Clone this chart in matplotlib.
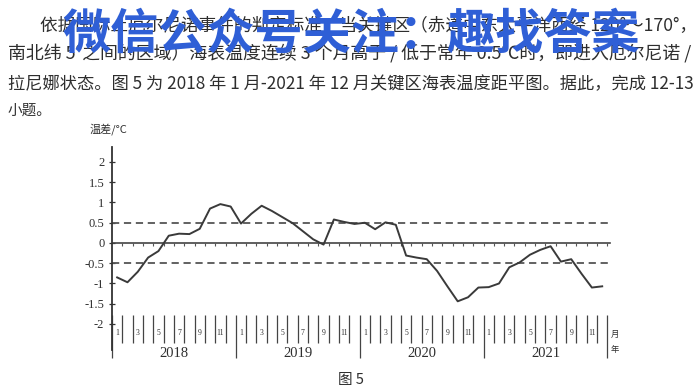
import matplotlib
matplotlib.use('Agg')
import matplotlib.pyplot as plt

# ---------------- data ----------------
years = ['2018', '2019', '2020', '2021']
month_labels = [1, 3, 5, 7, 9, 11]
anomaly = [-0.85, -0.97, -0.71, -0.36, -0.20, 0.18, 0.23, 0.22, 0.35, 0.85, 0.96, 0.90,
           0.48, 0.72, 0.92, 0.79, 0.64, 0.49, 0.29, 0.09, -0.04, 0.58, 0.52, 0.47,
           0.50, 0.34, 0.51, 0.45, -0.31, -0.36, -0.40, -0.69, -1.07, -1.44, -1.34, -1.10,
           -1.09, -1.00, -0.60, -0.48, -0.29, -0.17, -0.08, -0.46, -0.40, -0.76, -1.10, -1.07]
yticks = [2, 1.5, 1, 0.5, 0, -0.5, -1, -1.5, -2]
ytick_labels = ['2', '1.5', '1', '0.5', '0', '-0.5', '-1', '-1.5', '-2']
thresholds = [0.5, -0.5]

para_lines = [
    "依据国际上厄尔尼诺事件的判定标准，当关键区（赤道中东太平洋西经 120°～170°，",
    "南北纬 5°之间的区域）海表温度连续 3 个月高于 / 低于常年 0.5℃时，即进入厄尔尼诺 /",
    "拉尼娜状态。图 5 为 2018 年 1 月-2021 年 12 月关键区海表温度距平图。据此，完成 12-13",
    "小题。",
]
watermark = "微信公众号关注：趣找答案"

CJK = ['Noto Sans CJK SC', 'DejaVu Sans']
SERIF = ['Liberation Serif', 'DejaVu Serif']
INK = '#2e2e2e'

W, H = 700, 388
fig = plt.figure(figsize=(W / 100, H / 100), dpi=100)
fig.patch.set_facecolor('white')
renderer = fig.canvas.get_renderer()


def fit_line(s, x0, x1, y, size, **kw):
    t = fig.text(x0 / W, 1 - y / H, s, fontsize=size, va='center', ha='left', **kw)
    w = t.get_window_extent(renderer=renderer).width
    t.set_fontsize(size * (x1 - x0) / w)
    return t


# ---------------- paragraph text ----------------
fit_line(para_lines[0], 40, 695, 26, 11, family=CJK, color=INK)
fit_line(para_lines[1], 8, 692, 54, 11, family=CJK, color=INK)
fit_line(para_lines[2], 8, 692, 84, 11, family=CJK, color=INK)
fig.text(8 / W, 1 - 111 / H, para_lines[3], fontsize=10.5, family=CJK, color=INK,
         va='center', ha='left')

# watermark
wm = fit_line(watermark, 62, 640, 34, 34, family=CJK, color='#2f5fd6',
              fontweight='bold', zorder=10)

# ---------------- chart ----------------
px_month = 10.32
ax_left, ax_top, ax_bottom = 112, 140, 370
ax_w = 49 * px_month
ax = fig.add_axes([ax_left / W, (H - ax_bottom) / H, ax_w / W, (ax_bottom - ax_top) / H])
ax.set_xlim(0, 49)
ax.set_ylim(-3.136, 2.543)
ax.patch.set_alpha(0)
for side in ['top', 'right', 'bottom']:
    ax.spines[side].set_visible(False)
ax.spines['left'].set_bounds(-2.64, 2.37)
ax.spines['left'].set_color('#333333')
ax.spines['left'].set_linewidth(1.3)
ax.set_xticks([])
ax.set_yticks(yticks, ytick_labels)
ax.tick_params(axis='y', direction='inout', length=5, width=0.9, color='#333333',
               labelsize=9, pad=3, labelcolor=INK)
for lab in ax.get_yticklabels():
    lab.set_family(SERIF)

# zero line with downward month ticks
ax.plot([0, 48.3], [0, 0], color='#444444', lw=1.2)
ax.vlines(range(1, 49), -0.08, 0, color='#555555', lw=0.8)
# +-0.5 dashed thresholds
ax.hlines(thresholds, 0, 48.3, colors='#555555', linestyles=(0, (4, 2.6)), lw=1.3)

# data line
xs = [i + 0.5 for i in range(len(anomaly))]
ax.plot(xs, anomaly, color='#3a3a3a', lw=1.4)

# month boundary lines & labels
for k in range(49):
    bottom = -2.84 if k % 12 == 0 else -2.47
    ax.vlines(k, -1.78, bottom, colors='#444444', lw=0.9, clip_on=False)
for yi, yr in enumerate(years):
    for m in month_labels:
        ax.text(yi * 12 + (m - 1) + 0.5, -2.22, str(m), fontsize=5.5, family=SERIF,
                ha='center', va='center', color=INK, clip_on=False)
    ax.text(yi * 12 + 6, -2.74, yr, fontsize=10.5, family=SERIF, ha='center',
            va='center', color=INK, clip_on=False)
ax.text(48.75, -2.25, '月', fontsize=6, family=CJK, ha='center', va='center', color=INK,
        clip_on=False)
ax.text(48.75, -2.62, '年', fontsize=6, family=CJK, ha='center', va='center', color=INK,
        clip_on=False)

# axis title and figure caption
fig.text(108 / W, 1 - 129 / H, '温差/°C', fontsize=8, family=CJK, ha='center',
         va='center', color=INK)
fig.text(351 / W, 1 - 380 / H, '图 5', fontsize=10.5, family=CJK, ha='center',
         va='center', color=INK)

fig.savefig('out.png', dpi=100, facecolor='white')
